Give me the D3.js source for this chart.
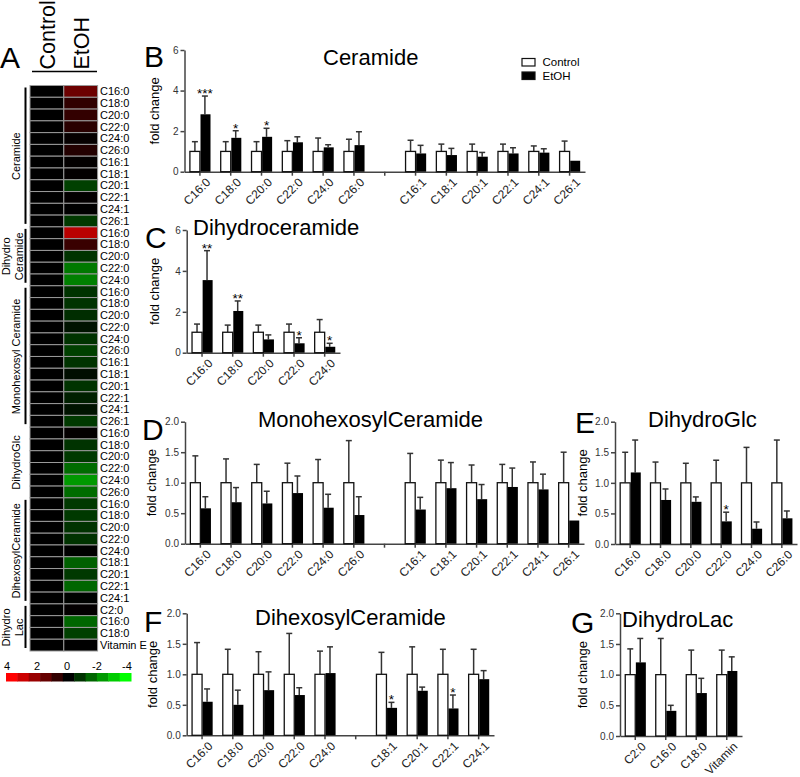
<!DOCTYPE html>
<html>
<head>
<meta charset="utf-8">
<script src="https://cdn.jsdelivr.net/npm/d3@7"></script>
<style>
  body { margin: 0; background: #fff; }
  svg { display: block; }
</style>
</head>
<body>
<svg width="800" height="777"></svg>
<script>
const FONT = "Arial, 'Liberation Sans', Helvetica, sans-serif";

// ---- heatmap (A) ----
const heatRows = [
  "C16:0","C18:0","C20:0","C22:0","C24:0","C26:0","C16:1","C18:1","C20:1","C22:1","C24:1","C26:1",
  "C16:0","C18:0","C20:0","C22:0","C24:0",
  "C16:0","C18:0","C20:0","C22:0","C24:0","C26:0","C16:1","C18:1","C20:1","C22:1","C24:1","C26:1",
  "C16:0","C18:0","C20:0","C22:0","C24:0","C26:0",
  "C16:0","C18:0","C20:0","C22:0","C24:0","C18:1","C20:1","C22:1","C24:1",
  "C2:0","C16:0","C18:0","Vitamin E"
];
const heatControl = [
  0,0,0,0,0,0,0,0,0,0,0,0,
  0,0,0,0,0,
  0,0,0,0,0,0,0,0,0,0,0,0,
  0,0,0,0,0,0,
  0,0,0,0,0,0,0,0,0,
  0,0,0,0
];
const heatEtoh = [
  1.7, 0.75, 0.8, 0.65, 0.1, 0.55, 0.05, 0.05, -1.0, 0.05, 0, -0.9,
  2.9, 0.9, -0.8, -1.9, -2.0,
  -0.8, -0.8, -0.7, -0.3, -0.8, -1.0, -0.8, -0.2, -0.8, -0.5, -0.3, -0.9,
  0.05, -0.8, -0.9, -1.7, -2.4, -1.7,
  -0.9, -0.9, -0.8, -0.8, 0, -1.5, -0.9, -1.6, -0.05,
  0.05, -1.6, -1.0, 0
];
const heatGroupNames = [["Ceramide"], ["Dihydro", "Ceramide"], ["Monohexosyl Ceramide"], ["DihydroGlc"], ["DihexosylCeramide"], ["Dihydro", "Lac"]];
const heatGroupSizes = [12, 5, 12, 6, 9, 4];
const heatGroupBracket = [true, true, true, false, true, true];
const colorSteps = [4, 3.2, 2.4, 1.6, 0.8, 0, -0.8, -1.6, -2.4, -3.2, -4];
const colorTicks = [4, 2, 0, -2, -4];

// ---- B Ceramide ----
const bCats = ["C16:0","C18:0","C20:0","C22:0","C24:0","C26:0","gap","C16:1","C18:1","C20:1","C22:1","C24:1","C26:1"];
const bCtrl = [1,1,1,1,1,1,null,1,1,1,1,1,1];
const bCtrlSem = [0.48,0.48,0.48,0.53,0.66,0.6,null,0.55,0.36,0.36,0.36,0.27,0.51];
const bEtoh = [2.83,1.67,1.72,1.45,1.2,1.31,null,0.9,0.82,0.74,0.9,0.94,0.54];
const bEtohSem = [0.9,0.35,0.42,0.27,0.13,0.66,null,0.4,0.33,0.21,0.28,0.19,0.02];
const bStars = ["***","*","*","","","","","","","","","",""];

// ---- C Dihydroceramide ----
const cCats = ["C16:0","C18:0","C20:0","C22:0","C24:0"];
const cCtrl = [1,1,1,1,1];
const cCtrlSem = [0.4,0.35,0.35,0.4,0.62];
const cEtoh = [3.55,2.04,0.65,0.46,0.29];
const cEtohSem = [1.44,0.49,0.22,0.27,0.17];
const cStars = ["**","**","","*","*"];

// ---- D MonohexosylCeramide ----
const dCats = ["C16:0","C18:0","C20:0","C22:0","C24:0","C26:0","gap","C16:1","C18:1","C20:1","C22:1","C24:1","C26:1"];
const dCtrl = [1,1,1,1,1,1,null,1,1,1,1,1,1];
const dCtrlSem = [0.44,0.39,0.3,0.32,0.38,0.69,null,0.48,0.37,0.29,0.3,0.34,0.5];
const dEtoh = [0.58,0.68,0.66,0.83,0.59,0.47,null,0.56,0.91,0.73,0.93,0.89,0.38];
const dEtohSem = [0.19,0.24,0.2,0.28,0.22,0.3,null,0.2,0.42,0.24,0.31,0.25,0];
const dStars = ["","","","","","","","","","","","",""];

// ---- E DihydroGlc ----
const eCats = ["C16:0","C18:0","C20:0","C22:0","C24:0","C26:0"];
const eCtrl = [1,1,1,1,1,1];
const eCtrlSem = [0.5,0.34,0.32,0.37,0.58,0.7];
const eEtoh = [1.17,0.72,0.69,0.37,0.25,0.42];
const eEtohSem = [0.53,0.18,0.08,0.15,0.11,0.12];
const eStars = ["","","","*","",""];

// ---- F DihexosylCeramide ----
const fCats = ["C16:0","C18:0","C20:0","C22:0","C24:0","gap","C18:1","C20:1","C22:1","C24:1"];
const fCtrl = [1,1,1,1,1,null,1,1,1,1];
const fCtrlSem = [0.52,0.41,0.37,0.67,0.38,null,0.36,0.45,0.41,0.41];
const fEtoh = [0.55,0.5,0.74,0.66,1.02,null,0.45,0.73,0.44,0.92];
const fEtohSem = [0.21,0.24,0.3,0.12,0.43,null,0.09,0.06,0.22,0.14];
const fStars = ["","","","","","","*","","*",""];

// ---- G DihydroLac ----
const gCats = ["C2:0","C16:0","C18:0","Vitamin"];
const gCtrl = [1,1,1,1];
const gCtrlSem = [0.42,0.59,0.4,0.4];
const gEtoh = [1.2,0.41,0.7,1.06];
const gEtohSem = [0.39,0.09,0.24,0.23];
const gStars = ["","","",""];

const ticks6 = [0, 2, 4, 6];
const ticks2 = [0, 0.5, 1, 1.5, 2];

const svg = d3.select("svg").attr("font-family", FONT);

// ===== heatmap =====
const heatColor = d3.scaleLinear().domain([-4, 0, 4]).range(["#00ff00", "#000000", "#ff0000"]).clamp(true);
const rowY = d3.scaleBand().domain(d3.range(heatRows.length)).range([85.5, 651]);
const colX = d3.scaleBand().domain(["Control", "EtOH"]).range([30, 97.6]);

const heat = svg.append("g");
const heatCols = [["Control", heatControl], ["EtOH", heatEtoh]];
heatCols.forEach(([name, vals]) => {
  heat.selectAll(null)
    .data(vals)
    .join("rect")
    .attr("x", colX(name))
    .attr("y", (d, i) => rowY(i))
    .attr("width", colX.bandwidth())
    .attr("height", rowY.bandwidth())
    .attr("fill", d => heatColor(d))
    .attr("stroke", "#9a9a9a")
    .attr("stroke-width", 1);
  heat.append("text")
    .attr("transform", `translate(${colX(name) + colX.bandwidth() / 2 + 8},69.5) rotate(-90)`)
    .attr("font-size", 21.5)
    .text(name);
});
heat.append("line")
  .attr("x1", 32).attr("x2", 97).attr("y1", 71.5).attr("y2", 71.5)
  .attr("stroke", "#000").attr("stroke-width", 1.5);

heat.selectAll(null)
  .data(heatRows)
  .join("text")
  .attr("x", 100)
  .attr("y", (d, i) => rowY(i) + rowY.bandwidth() / 2)
  .attr("dy", "0.35em")
  .attr("font-size", 11)
  .text(d => d);

let start = 0;
heatGroupSizes.forEach((n, gi) => {
  const top = rowY(start), bot = rowY(start + n - 1) + rowY.bandwidth();
  if (heatGroupBracket[gi]) {
    heat.append("line")
      .attr("x1", 25.5).attr("x2", 25.5)
      .attr("y1", top + 2).attr("y2", bot - 3)
      .attr("stroke", "#000").attr("stroke-width", 2);
  }
  const lines = heatGroupNames[gi];
  const cx = lines.length === 1 ? [16] : [6, 19];
  lines.forEach((t, li) => {
    heat.append("text")
      .attr("transform", `translate(${cx[li] + 4},${(top + bot) / 2}) rotate(-90)`)
      .attr("text-anchor", "middle")
      .attr("font-size", 11)
      .text(t);
  });
  start += n;
});

// colour key
const keyX = d3.scaleBand().domain(colorSteps).range([6, 131]);
heat.selectAll(null)
  .data(colorSteps)
  .join("rect")
  .attr("x", d => keyX(d))
  .attr("y", 673)
  .attr("width", keyX.bandwidth() + 0.5)
  .attr("height", 8.5)
  .attr("fill", d => heatColor(d));
const keyTick = d3.scaleLinear().domain([4, -4]).range([7, 127]);
heat.selectAll(null)
  .data(colorTicks)
  .join("text")
  .attr("x", d => keyTick(d))
  .attr("y", 670)
  .attr("text-anchor", "middle")
  .attr("font-size", 11)
  .text(d => d);

svg.append("text").attr("x", 0).attr("y", 68).attr("font-size", 30).text("A");

// ===== bar panels =====
function barPanel(p) {
  const g = svg.append("g");
  const x = d3.scaleBand().domain(p.cats).range([p.x0, p.x1]);
  const y = d3.scaleLinear().domain([0, p.yMax]).range([p.y0, p.yTop]);

  const ya = g.append("g")
    .attr("transform", `translate(${p.x0},0)`)
    .call(d3.axisLeft(y).tickValues(p.ticks).tickFormat(p.fmt).tickSize(4).tickSizeOuter(0));
  ya.attr("font-family", FONT).attr("font-size", 10);
  ya.selectAll("path, line").attr("stroke", "#444").attr("stroke-width", 1.5);
  ya.selectAll("text").attr("fill", "#333").attr("x", -6);

  const xa = g.append("g")
    .attr("transform", `translate(0,${p.y0})`)
    .call(d3.axisBottom(x).tickSize(4).tickSizeOuter(0).tickFormat(d => d === "gap" ? "" : d));
  xa.attr("font-family", FONT).attr("font-size", 12);
  xa.selectAll("path, line").attr("stroke", "#444").attr("stroke-width", 1.5);
  xa.selectAll("text")
    .attr("fill", "#222")
    .attr("x", 0).attr("y", 0).attr("dy", "0.75em")
    .attr("text-anchor", "end")
    .attr("transform", "translate(5,5) rotate(-45)");

  const rows = p.cats.map((c, i) => ({
    cat: c, ctrl: p.ctrl[i], ctrlSem: p.ctrlSem[i],
    etoh: p.etoh[i], etohSem: p.etohSem[i], star: p.stars[i]
  })).filter(d => d.ctrl != null);

  const cx = d => x(d.cat) + x.bandwidth() / 2;
  const bw = 10;

  // error bars (upper only)
  const err = [];
  rows.forEach(d => {
    err.push({ x: cx(d) - bw / 2, m: d.ctrl, s: d.ctrlSem });
    err.push({ x: cx(d) + bw / 2, m: d.etoh, s: d.etohSem });
  });
  const eg = g.selectAll(null).data(err.filter(e => e.s > 0.03)).join("g")
    .attr("stroke", "#333").attr("stroke-width", 1.5);
  eg.append("line")
    .attr("x1", e => e.x).attr("x2", e => e.x)
    .attr("y1", e => y(e.m)).attr("y2", e => y(e.m + e.s));
  eg.append("line")
    .attr("x1", e => e.x - 3).attr("x2", e => e.x + 3)
    .attr("y1", e => y(e.m + e.s)).attr("y2", e => y(e.m + e.s));

  g.selectAll(null).data(rows).join("rect")
    .attr("x", d => cx(d) - bw)
    .attr("y", d => y(d.ctrl))
    .attr("width", bw)
    .attr("height", d => p.y0 - y(d.ctrl))
    .attr("fill", "#fff")
    .attr("stroke", "#111")
    .attr("stroke-width", 1.3);
  g.selectAll(null).data(rows).join("rect")
    .attr("x", d => cx(d) + 0.6)
    .attr("y", d => y(d.etoh))
    .attr("width", bw)
    .attr("height", d => p.y0 - y(d.etoh))
    .attr("fill", "#000");

  g.selectAll(null).data(rows.filter(d => d.star)).join("text")
    .attr("x", d => cx(d) + bw / 2)
    .attr("y", d => y(d.etoh + d.etohSem) + 2)
    .attr("text-anchor", "middle")
    .attr("font-size", 13.5)
    .text(d => d.star);

  g.append("text")
    .attr("transform", `translate(${p.labelX},${(p.y0 + p.yTop) / 2}) rotate(-90)`)
    .attr("text-anchor", "middle")
    .attr("font-size", 13)
    .text("fold change");
  g.append("text").attr("x", p.titleX).attr("y", p.titleY).attr("font-size", 22).text(p.title);
  g.append("text").attr("x", p.letterX).attr("y", p.letterY).attr("font-size", 30).text(p.letter);
}

const fmt0 = d3.format("d");
const fmt1 = d3.format(".1f");

barPanel({ cats: bCats, ctrl: bCtrl, ctrlSem: bCtrlSem, etoh: bEtoh, etohSem: bEtohSem, stars: bStars,
  x0: 184.5, x1: 585, y0: 171.7, yTop: 50, yMax: 6, ticks: ticks6, fmt: fmt0,
  title: "Ceramide", titleX: 323, titleY: 65, letter: "B", letterX: 144, letterY: 67, labelX: 159 });
barPanel({ cats: cCats, ctrl: cCtrl, ctrlSem: cCtrlSem, etoh: cEtoh, etohSem: cEtohSem, stars: cStars,
  x0: 186.7, x1: 340, y0: 352.7, yTop: 230, yMax: 6, ticks: ticks6, fmt: fmt0,
  title: "Dihydroceramide", titleX: 193, titleY: 235, letter: "C", letterX: 145, letterY: 248, labelX: 159 });
barPanel({ cats: dCats, ctrl: dCtrl, ctrlSem: dCtrlSem, etoh: dEtoh, etohSem: dEtohSem, stars: dStars,
  x0: 185, x1: 584, y0: 543.7, yTop: 421.7, yMax: 2, ticks: ticks2, fmt: fmt1,
  title: "MonohexosylCeramide", titleX: 258, titleY: 427, letter: "D", letterX: 142, letterY: 440, labelX: 156 });
barPanel({ cats: eCats, ctrl: eCtrl, ctrlSem: eCtrlSem, etoh: eEtoh, etohSem: eEtohSem, stars: eStars,
  x0: 615, x1: 797, y0: 544, yTop: 421.7, yMax: 2, ticks: ticks2, fmt: fmt1,
  title: "DihydroGlc", titleX: 648, titleY: 427, letter: "E", letterX: 575, letterY: 433, labelX: 587 });
barPanel({ cats: fCats, ctrl: fCtrl, ctrlSem: fCtrlSem, etoh: fEtoh, etohSem: fEtohSem, stars: fStars,
  x0: 186.7, x1: 494, y0: 735.3, yTop: 613.3, yMax: 2, ticks: ticks2, fmt: fmt1,
  title: "DihexosylCeramide", titleX: 255, titleY: 625, letter: "F", letterX: 144, letterY: 632, labelX: 157 });
barPanel({ cats: gCats, ctrl: gCtrl, ctrlSem: gCtrlSem, etoh: gEtoh, etohSem: gEtohSem, stars: gStars,
  x0: 620, x1: 742, y0: 736, yTop: 613.3, yMax: 2, ticks: ticks2, fmt: fmt1,
  title: "DihydroLac", titleX: 622, titleY: 627, letter: "G", letterX: 571, letterY: 633, labelX: 587 });

// legend for B
const legend = svg.append("g").attr("font-size", 11.5);
[["Control", "#fff"], ["EtOH", "#000"]].forEach(([name, fill], i) => {
  legend.append("rect")
    .attr("x", 522).attr("y", 58.5 + i * 13.5)
    .attr("width", 13).attr("height", 7.5)
    .attr("fill", fill).attr("stroke", "#111").attr("stroke-width", 1.2);
  legend.append("text")
    .attr("x", 542.5).attr("y", 66 + i * 13.5)
    .text(name);
});
</script>
</body>
</html>
